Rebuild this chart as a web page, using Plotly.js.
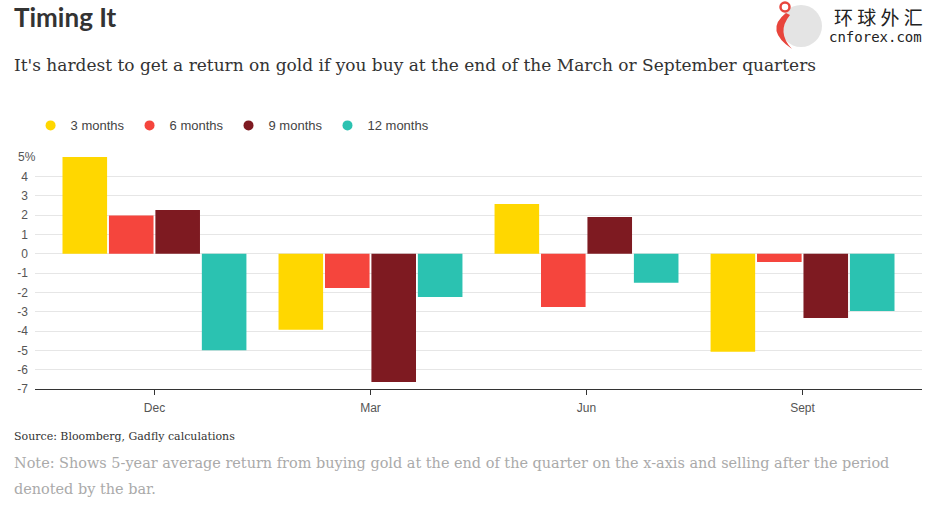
<!DOCTYPE html>
<html>
<head>
<meta charset="utf-8">
<script src="https://cdn.plot.ly/plotly-3.0.1.min.js"></script>
<style>
html,body{margin:0;padding:0;background:#fff;}
#chart{width:926px;height:506px;}
</style>
</head>
<body>
<div id="chart"></div>
<script>
// ---- data ----
var quarters = ["Dec", "Mar", "Jun", "Sept"];
var seriesNames = ["3 months", "6 months", "9 months", "12 months"];
var months3  = [5.0, -3.93, 2.57, -5.07];
var months6  = [1.97, -1.78, -2.76, -0.43];
var months9  = [2.26, -6.64, 1.90, -3.33];
var months12 = [-5.0, -2.24, -1.50, -2.97];
var yTickVals = [-7, -6, -5, -4, -3, -2, -1, 0, 1, 2, 3, 4, 5];
var yTickText = ["-7", "-6", "-5", "-4", "-3", "-2", "-1", "0", "1", "2", "3", "4", ""];
var topTickLabel = "5%";

var colors = ["#FFD700", "#F5453D", "#7E1A21", "#2BC2B1"];
var allSeries = [months3, months6, months9, months12];

var traces = [];
allSeries.forEach(function (vals, i) {
  traces.push({
    type: "bar",
    x: quarters,
    y: vals,
    name: seriesNames[i],
    marker: { color: colors[i] },
    showlegend: false,
    hoverinfo: "x+y+name"
  });
});
// legend entries with round symbols
seriesNames.forEach(function (n, i) {
  traces.push({
    type: "scatter",
    mode: "markers",
    x: [null],
    y: [null],
    name: n,
    marker: { color: colors[i], size: 10, symbol: "circle" },
    showlegend: true,
    hoverinfo: "skip"
  });
});

var serif = "DejaVu Serif, Georgia, serif";

var layout = {
  width: 926,
  height: 506,
  paper_bgcolor: "#fff",
  plot_bgcolor: "#fff",
  margin: { l: 35, r: 4, t: 157, b: 117 },
  barmode: "group",
  bargap: 0.14,
  bargroupgap: 0.04,
  font: { family: "Liberation Sans, Arial, sans-serif", size: 12, color: "#555" },
  showlegend: true,
  legend: {
    orientation: "h",
    x: -0.005,
    xanchor: "left",
    y: 1.136,
    yanchor: "middle",
    font: { family: "Liberation Sans, Arial, sans-serif", size: 13, color: "#444" },
    itemclick: false,
    itemdoubleclick: false
  },
  xaxis: {
    type: "category",
    range: [-0.553, 3.553],
    showline: true,
    linecolor: "#333",
    linewidth: 1,
    ticks: "outside",
    ticklen: 5,
    tickcolor: "#333",
    ticklabelstandoff: 3,
    showgrid: false,
    tickfont: { size: 12, color: "#555" },
    fixedrange: true
  },
  yaxis: {
    range: [-7, 5],
    tickvals: yTickVals,
    ticktext: yTickText,
    showgrid: true,
    gridcolor: "#e6e6e6",
    gridwidth: 1,
    zeroline: false,
    showline: false,
    ticks: "",
    ticklabelstandoff: 6,
    tickfont: { size: 12, color: "#555" },
    fixedrange: true
  },
  annotations: [
    { xref: "paper", yref: "y", x: 0, y: 5, xanchor: "left", yanchor: "middle", xshift: -19,
      text: topTickLabel, showarrow: false, font: { size: 12, color: "#555" } },
    { xref: "paper", yref: "paper", x: -0.024, y: 1.0, xanchor: "left", yanchor: "top",
      yshift: 158, xshift: -2, text: "<b>Timing It</b>", showarrow: false,
      font: { family: "Lato, Liberation Sans, sans-serif", size: 26, color: "#333" } },
    { xref: "paper", yref: "paper", x: -0.024, y: 1.0, xanchor: "left", yanchor: "middle",
      yshift: 92, xshift: -2, text: "It's hardest to get a return on gold if you buy at the end of the March or September quarters",
      showarrow: false, font: { family: serif, size: 17, color: "#333" } },
    { xref: "paper", yref: "paper", x: -0.024, y: 0, xanchor: "left", yanchor: "middle",
      yshift: -47, xshift: -2, text: "Source: Bloomberg, Gadfly calculations",
      showarrow: false, font: { family: serif, size: 11, color: "#333" } },
    { xref: "paper", yref: "paper", x: -0.024, y: 0, xanchor: "left", yanchor: "middle",
      yshift: -74, xshift: -2, text: "Note: Shows 5-year average return from buying gold at the end of the quarter on the x-axis and selling after the period",
      showarrow: false, font: { family: serif, size: 14.45, color: "#aaa" } },
    { xref: "paper", yref: "paper", x: -0.024, y: 0, xanchor: "left", yanchor: "middle",
      yshift: -100, xshift: -2, text: "denoted by the bar.",
      showarrow: false, font: { family: serif, size: 14.45, color: "#aaa" } },
    { xref: "paper", yref: "paper", x: 1.0, y: 1.0, xanchor: "right", yanchor: "middle",
      yshift: 141, xshift: 3, text: "环 球 外 汇",
      showarrow: false, font: { family: "Noto Sans CJK SC, sans-serif", size: 19, color: "#222" } },
    { xref: "paper", yref: "paper", x: 1.0, y: 1.0, xanchor: "right", yanchor: "middle",
      yshift: 120, xshift: 2, text: "cnforex.com",
      showarrow: false, font: { family: "DejaVu Sans Mono, monospace", size: 14, color: "#222" } }
  ],
  shapes: [
    { type: "circle", xref: "paper", yref: "paper", xsizemode: "pixel", ysizemode: "pixel",
      xanchor: 1.0, yanchor: 1.0, x0: -142, x1: -100, y0: 110, y1: 152,
      fillcolor: "#e4e4e4", line: { width: 0 } },
    { type: "path", xref: "paper", yref: "paper", xsizemode: "pixel", ysizemode: "pixel",
      xanchor: 1.0, yanchor: 1.0,
      path: "M -136,144 Q -158,127 -130,108 Q -146,125 -132,142 Z",
      fillcolor: "#e8453c", line: { width: 0 } },
    { type: "circle", xref: "paper", yref: "paper", xsizemode: "pixel", ysizemode: "pixel",
      xanchor: 1.0, yanchor: 1.0, x0: -141.5, x1: -132.5, y0: 145.5, y1: 154.5,
      fillcolor: "#fff", line: { color: "#e8453c", width: 2.5 } }
  ]
};

Plotly.newPlot("chart", traces, layout, { displayModeBar: false, staticPlot: true });
</script>
</body>
</html>
